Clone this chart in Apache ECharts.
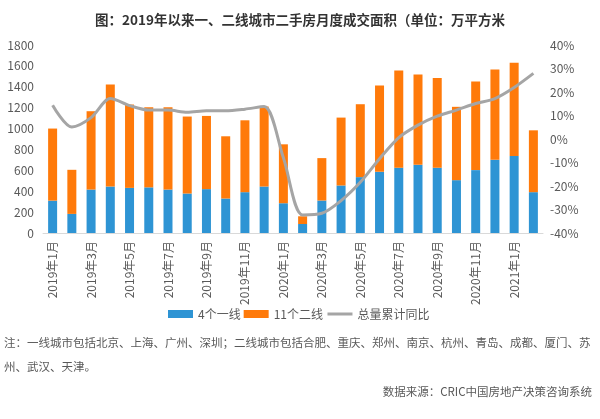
<!DOCTYPE html>
<html><head><meta charset="utf-8">
<script src="https://cdn.jsdelivr.net/npm/echarts@6/dist/echarts.min.js"></script>
<style>html,body{margin:0;padding:0;background:#fff}#c{width:600px;height:419px}</style>
</head><body><div id="c"></div>
<script>
var months = ['2019年1月','2019年2月','2019年3月','2019年4月','2019年5月','2019年6月','2019年7月','2019年8月','2019年9月','2019年10月','2019年11月','2019年12月',
'2020年1月','2020年2月','2020年3月','2020年4月','2020年5月','2020年6月','2020年7月','2020年8月','2020年9月','2020年10月','2020年11月','2020年12月',
'2021年1月','2021年2月'];
var tier1 = [310,183,416,445,432,437,416,378,420,330,391,445,285,86,311,455,535,586,625,653,625,506,602,701,737,391];
var tier2 = [690,422,750,977,798,767,788,737,701,596,688,766,564,74,406,650,698,827,932,865,858,702,849,865,893,592];
var yoy = [14.4,5.1,9.1,17.2,14.2,12.3,12.3,11.4,12,12,12.7,13.8,-8,-32.3,-31.6,-26.2,-18.4,-8.4,0.6,5.9,9.7,12.3,15.1,17.2,21.9,27.9];
var seriesNames = ['4个一线','11个二线','总量累计同比'];
var leftTicks = {min:0,max:1800,interval:200};
var rightTicks = {min:-40,max:40,interval:10};

var txt = '#595959';
var font = '"Noto Sans CJK SC", sans-serif';
var chart = echarts.init(document.getElementById('c'));
chart.setOption({
  animation:false,
  textStyle:{fontFamily:font},
  title:{text:'图：2019年以来一、二线城市二手房月度成交面积（单位：万平方米',left:'center',top:8,
    textStyle:{fontSize:13.5,fontWeight:'bold',color:'#333',fontFamily:font}},
  grid:{left:43,right:57,top:45,bottom:186},
  legend:{left:163,top:303,itemWidth:25,itemHeight:8,itemGap:3,
    textStyle:{fontSize:12,color:txt,fontFamily:font},
    data:[{name:seriesNames[0],icon:'rect'},{name:seriesNames[1],icon:'rect'},
      {name:seriesNames[2],itemStyle:{opacity:0},lineStyle:{width:3,color:'#a5a5a5'}}]},
  xAxis:{type:'category',data:months,
    axisLine:{lineStyle:{color:'#d9d9d9'}},
    axisTick:{interval:1,length:5,lineStyle:{color:'#d9d9d9'}},
    axisLabel:{interval:1,rotate:90,fontSize:12,color:txt,margin:8,fontFamily:font}},
  yAxis:[
    {type:'value',min:leftTicks.min,max:leftTicks.max,interval:leftTicks.interval,
     splitLine:{show:false},axisLine:{show:false},axisTick:{show:false},
     axisLabel:{fontSize:12,color:txt,margin:9,formatter:function(v){return String(v);}}},
    {type:'value',min:rightTicks.min,max:rightTicks.max,interval:rightTicks.interval,
     splitLine:{show:false},axisLine:{show:false},axisTick:{show:false},
     axisLabel:{fontSize:12,color:txt,margin:7,formatter:function(v){return v+'%';}}}
  ],
  series:[
    {name:seriesNames[0],type:'bar',stack:'a',data:tier1,barWidth:9,itemStyle:{color:'#2e94d4'}},
    {name:seriesNames[1],type:'bar',stack:'a',data:tier2,barWidth:9,itemStyle:{color:'#ff7a0a'}},
    {name:seriesNames[2],type:'line',yAxisIndex:1,data:yoy,smooth:0.3,showSymbol:false,symbol:'none',
     lineStyle:{color:'#a5a5a5',width:3},itemStyle:{color:'#a5a5a5'}}
  ],
  graphic:[
    {type:'text',left:4,top:337,style:{text:'注：一线城市包括北京、上海、广州、深圳；二线城市包括合肥、重庆、郑州、南京、杭州、青岛、成都、厦门、苏',fontSize:11.5,fill:txt,fontFamily:font}},
    {type:'text',left:4,top:361,style:{text:'州、武汉、天津。',fontSize:11.5,fill:txt,fontFamily:font}},
    {type:'text',right:8,top:386,style:{text:'数据来源：CRIC中国房地产决策咨询系统',fontSize:11.5,fill:txt,fontFamily:font}}
  ]
});
</script></body></html>
